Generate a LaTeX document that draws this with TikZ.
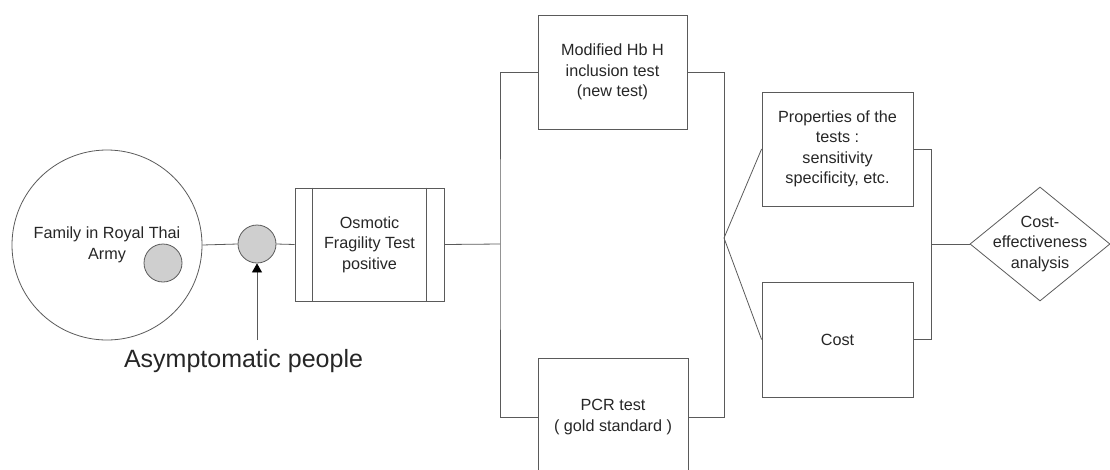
\documentclass[tikz,border=0pt]{standalone}
\usepackage{fontspec}
\setmainfont{Liberation Sans}
\usetikzlibrary{shapes.geometric,arrows.meta}
\definecolor{ln}{HTML}{5A5A5A}
\definecolor{txt}{HTML}{262626}
\definecolor{dot}{HTML}{CFCFCF}
\begin{document}
\begin{tikzpicture}[x=1pt,y=-1pt,
  every node/.style={text=txt,font=\fontsize{16.2}{20.5}\selectfont},
  conn/.style={draw=ln,line width=0.8pt},
  boxnode/.style={draw=ln,line width=0.8pt,rectangle,inner sep=0pt,align=center},
  dotnode/.style={draw=ln,line width=0.8pt,circle,fill=dot,minimum size=38pt,inner sep=0pt}]
\useasboundingbox (0,0) rectangle (1110,469);
\clip (0,0) rectangle (1110,469);
% family circle
\node[draw=ln,line width=0.8pt,circle,minimum size=190pt,inner sep=0pt,align=center] (fam) at (107,245) {Family in Royal Thai\\Army};
\node[dotnode] (inner) at (163,263) {};
\node[dotnode] (asym) at (257,244) {};
\node[font=\fontsize{25}{30}\selectfont,anchor=base] (asymtxt) at (243.5,367) {Asymptomatic people};
\coordinate (arrstart) at (257,340);
% osmotic box
\node[boxnode,minimum width=149pt,minimum height=113pt] (osm) at (369.5,244.5) {Osmotic\\Fragility Test\\positive};
\draw[conn] ([xshift=18pt]osm.north west) -- ([xshift=18pt]osm.south west);
\draw[conn] ([xshift=-18pt]osm.north east) -- ([xshift=-18pt]osm.south east);
% tests
\node[boxnode,minimum width=149pt,minimum height=114pt] (mod) at (612.5,72) {Modified Hb H\\inclusion test\\(new test)};
\node[boxnode,minimum width=150pt,minimum height=118pt] (pcr) at (613,417) {PCR test\\( gold standard )};
\coordinate (lb) at (500,244);
\coordinate (fan) at (724,238);
% properties & cost
\node[boxnode,minimum width=151pt,minimum height=114pt] (prop) at (837.5,149) {Properties of the\\tests :\\sensitivity\\specificity, etc.};
\node[boxnode,minimum width=151pt,minimum height=115pt] (cost) at (837.5,339.5) {Cost};
\coordinate (rb) at (931,244);
\node[draw=ln,line width=0.8pt,diamond,minimum width=140pt,minimum height=114pt,inner sep=0pt] (cea) at (1040,244) {};
\node[align=center] (ceatxt) at (cea.center) {Cost-\\effectiveness\\analysis};
% connectors
\draw[conn] (fam.east) -- (asym.west);
\draw[conn] (asym.east) -- (osm.west);
\draw[conn,-{Triangle[length=9pt,width=10pt,color=black]}] (arrstart) -- (asym.south);
\draw[conn] (osm.east) -- (lb);
\draw[conn] (mod.west) -| (lb) |- (pcr.west);
\draw[conn] (mod.east) -| (fan) |- (pcr.east);
\draw[conn] (prop.west) -- (fan) -- (cost.west);
\draw[conn] (prop.east) -| (rb) |- (cost.east);
\draw[conn] (rb) -- (cea.west);
\end{tikzpicture}
\end{document}
